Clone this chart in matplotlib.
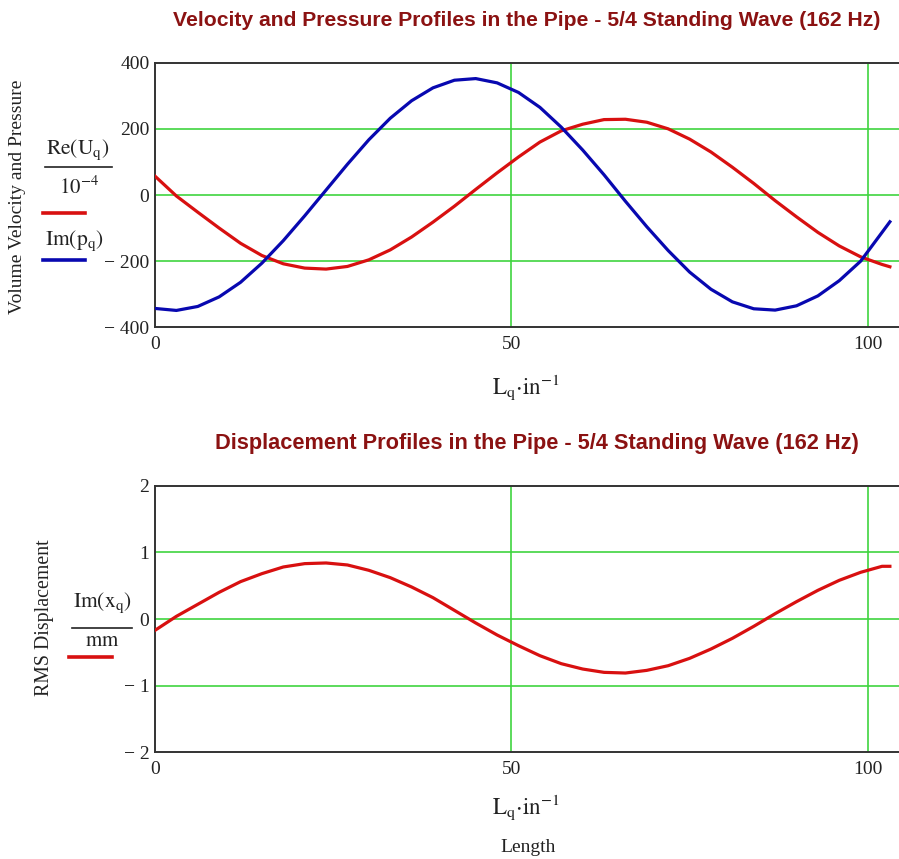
import matplotlib
matplotlib.use("Agg")
import matplotlib.pyplot as plt
from matplotlib.lines import Line2D

plt.rcParams['font.family'] = ['Liberation Serif', 'DejaVu Serif']
plt.rcParams['mathtext.fontset'] = 'stix'

W, H = 899, 859

# position along the pipe (inches)
length_in = [0, 3, 6, 9, 12, 15, 18, 21, 24, 27, 30, 33, 36, 39, 42, 45, 48, 51,
             54, 57, 60, 63, 66, 69, 72, 75, 78, 81, 84, 87, 90, 93, 96, 99, 102, 103.1]

# Re(U_q) / 1e-4
re_velocity = [57, -3, -52, -100, -146, -183, -208, -221, -224, -216, -196, -166,
               -127, -82, -34, 17, 67, 115, 160, 194, 214, 228, 229, 220, 200, 169,
               130, 84, 35, -17, -66, -113, -154, -187, -210, -217]

# Im(p_q)
im_pressure = [-343, -349, -337, -308, -264, -206, -138, -63, 15, 93, 167, 232,
               285, 324, 347, 352, 339, 310, 265, 205, 136, 61, -19, -96, -168, -233,
               -285, -323, -344, -348, -335, -305, -259, -200, -113, -81]

# Im(x_q) / mm
im_displacement = [-0.17, 0.04, 0.22, 0.40, 0.56, 0.68, 0.78, 0.83, 0.84, 0.81, 0.73,
                   0.62, 0.48, 0.32, 0.13, -0.06, -0.24, -0.40, -0.55, -0.67, -0.75,
                   -0.80, -0.81, -0.77, -0.70, -0.59, -0.45, -0.29, -0.11, 0.08, 0.26,
                   0.43, 0.58, 0.70, 0.79, 0.79]

x_ticks = [0, 50, 100]
x_ticklabels = ["0", "50", "100"]
top_yticks = [-400, -200, 0, 200, 400]
top_yticklabels = ["\u2212 400", "\u2212 200", "0", "200", "400"]
bot_yticks = [-2, -1, 0, 1, 2]
bot_yticklabels = ["\u2212 2", "\u2212 1", "0", "1", "2"]

RED = "#d81010"
BLUE = "#0808b0"
GRID = "#3fd43f"
TITLE = "#8b1212"
TXT = "#222222"
SANS = ['Liberation Sans', 'DejaVu Sans']


def fx(px):
    return px / W


def fy(py):
    return 1 - py / H


fig = plt.figure(figsize=(W / 100, H / 100), dpi=100)

left, width = fx(155), 747 / W
ax1 = fig.add_axes([left, fy(327.3), width, 264.6 / H])
ax2 = fig.add_axes([left, fy(752.4), width, 266.8 / H])


def style(ax, yticks, yticklabels, ylim):
    ax.set_xlim(0, 104.8)
    ax.set_ylim(*ylim)
    ax.set_xticks(x_ticks)
    ax.set_xticklabels(x_ticklabels)
    ax.set_yticks(yticks)
    ax.set_yticklabels(yticklabels)
    ax.tick_params(length=0, labelsize=14, labelcolor=TXT)
    ax.tick_params(axis='y', pad=4)
    ax.tick_params(axis='x', pad=6)
    for s in ax.spines.values():
        s.set_color("#333333")
        s.set_linewidth(1.4)
    ax.spines['right'].set_visible(False)
    for t in yticks[1:-1]:
        ax.axhline(t, color=GRID, lw=1.2, zorder=1)
    for t in x_ticks[1:]:
        ax.axvline(t, color=GRID, lw=1.2, zorder=1)


style(ax1, top_yticks, top_yticklabels, (-400, 400))
ax1.plot(length_in, re_velocity, color=RED, lw=2.3, zorder=3)
ax1.plot(length_in, im_pressure, color=BLUE, lw=2.3, zorder=3)

style(ax2, bot_yticks, bot_yticklabels, (-2, 2))
ax2.plot(length_in, im_displacement, color=RED, lw=2.3, zorder=3)

# titles
fig.text(fx(527), fy(21), "Velocity and Pressure Profiles in the Pipe - 5/4 Standing Wave (162 Hz)",
         family=SANS, weight='bold', fontsize=15.2, color=TITLE, ha='center', va='center')
fig.text(fx(537), fy(443), "Displacement Profiles in the Pipe - 5/4 Standing Wave (162 Hz)",
         family=SANS, weight='bold', fontsize=15.7, color=TITLE, ha='center', va='center')

# x labels
xlab = r"$\mathrm{L_q{\cdot}in^{-1}}$"
fig.text(fx(526), fy(387), xlab, fontsize=16.5, color=TXT, ha='center', va='center')
fig.text(fx(526), fy(807), xlab, fontsize=16.5, color=TXT, ha='center', va='center')
fig.text(fx(528), fy(848), "Length", fontsize=14, color=TXT, ha='center', va='center')

# top y label and trace keys
fig.text(fx(18), fy(197), "Volume Velocity and Pressure", rotation=90, fontsize=14,
         color=TXT, ha='center', va='center')
fig.text(fx(78), fy(150), r"$\mathrm{Re}\left(\mathrm{U_q}\right)$", fontsize=15.5,
         color=TXT, ha='center', va='center')
fig.add_artist(Line2D([fx(45), fx(112)], [fy(167), fy(167)], color=TXT, lw=1.2,
                      transform=fig.transFigure))
fig.text(fx(79), fy(188), r"$\mathrm{10^{-4}}$", fontsize=15, color=TXT,
         ha='center', va='center')
fig.add_artist(Line2D([fx(43), fx(85)], [fy(213), fy(213)], color=RED, lw=2.6,
                      transform=fig.transFigure))
fig.text(fx(74), fy(241), r"$\mathrm{Im}\left(\mathrm{p_q}\right)$", fontsize=15.5,
         color=TXT, ha='center', va='center')
fig.add_artist(Line2D([fx(43), fx(85)], [fy(260), fy(260)], color=BLUE, lw=2.6,
                      transform=fig.transFigure))

# bottom y label and trace key
fig.text(fx(45), fy(618), "RMS Displacement", rotation=90, fontsize=14.3,
         color=TXT, ha='center', va='center')
fig.text(fx(102), fy(603), r"$\mathrm{Im}\left(\mathrm{x_q}\right)$", fontsize=15.5,
         color=TXT, ha='center', va='center')
fig.add_artist(Line2D([fx(72), fx(132)], [fy(628), fy(628)], color=TXT, lw=1.2,
                      transform=fig.transFigure))
fig.text(fx(102), fy(641), r"$\mathrm{mm}$", fontsize=15, color=TXT,
         ha='center', va='center')
fig.add_artist(Line2D([fx(69), fx(112)], [fy(657), fy(657)], color=RED, lw=2.6,
                      transform=fig.transFigure))

fig.savefig("out.png", dpi=100)
